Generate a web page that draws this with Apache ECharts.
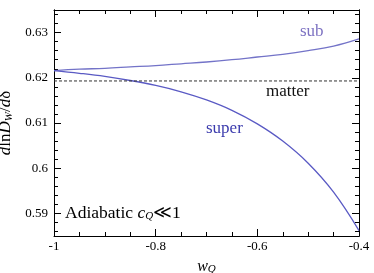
<!DOCTYPE html>
<html><head><meta charset="utf-8">
<script src="https://cdn.jsdelivr.net/npm/echarts@6/dist/echarts.min.js"></script>
<style>html,body{margin:0;padding:0;background:#fff}#c{width:374px;height:273px}</style>
</head><body><div id="c"></div>
<script>
const wQ = [-1, -0.95, -0.9, -0.85, -0.8, -0.75, -0.7, -0.65, -0.6, -0.55, -0.5, -0.45, -0.4];
const subVals = [0.6216, 0.6219, 0.6221, 0.6224, 0.6227, 0.6231, 0.6235, 0.6240, 0.6246, 0.6252, 0.6260, 0.6270, 0.6286];
const superVals = [0.6216, 0.6210, 0.6203, 0.6194, 0.6183, 0.6169, 0.6151, 0.6128, 0.6098, 0.6060, 0.6011, 0.5947, 0.5862];
const matterW = [-1, -0.4];
const matterVals = [0.6193, 0.6193];
const yMajorTicks = [0.59, 0.60, 0.61, 0.62, 0.63];
const yMinorTicks = [0.586, 0.588, 0.592, 0.594, 0.596, 0.598, 0.602, 0.604, 0.606, 0.608, 0.612, 0.614, 0.616, 0.618, 0.622, 0.624, 0.626, 0.628, 0.632, 0.634];
const yMajorLabels = ['0.59', '0.6', '0.61', '0.62', '0.63'];

const FONT = '"Liberation Serif", "DejaVu Serif", serif';
const chart = echarts.init(document.getElementById('c'), null, {renderer: 'canvas'});
const pair = (xs, ys) => xs.map((x, i) => [x, ys[i]]);
const lineC = '#000';
function xAx(pos, show) {
  return {
    type: 'value', min: -1, max: -0.4, interval: 0.2, position: pos,
    axisLine: {show: true, onZero: false, lineStyle: {color: lineC, width: 1}},
    axisTick: {show: true, inside: true, length: 7, lineStyle: {color: lineC}},
    minorTick: {show: true, splitNumber: 4, length: 4, lineStyle: {color: lineC}},
    splitLine: {show: false}, minorSplitLine: {show: false},
    axisLabel: {show: show, margin: 4, color: '#000', fontFamily: FONT, fontSize: 13,
      formatter: v => String(Math.round(v * 10) / 10)},
    name: show ? '{i|w}{s|Q}' : '', nameLocation: 'middle', nameGap: 22,
    nameTextStyle: {rich: {
      i: {fontFamily: FONT, fontStyle: 'italic', fontSize: 16, color: '#000'},
      s: {fontFamily: FONT, fontStyle: 'italic', fontSize: 11, color: '#000', verticalAlign: 'bottom', padding: [6, 0, 0, 0]}
    }}
  };
}
function yAx(pos, major, show) {
  return {
    type: 'value', min: 0.585, max: 0.635, position: pos,
    axisLine: {show: true, onZero: false, lineStyle: {color: lineC, width: 1}},
    axisTick: {show: true, inside: true, length: major ? 7 : 4, customValues: major ? yMajorTicks : yMinorTicks, lineStyle: {color: lineC}},
    splitLine: {show: false},
    axisLabel: {show: show, customValues: yMajorTicks, margin: 6, color: '#000', fontFamily: FONT, fontSize: 13,
      formatter: v => yMajorLabels[yMajorTicks.findIndex(t => Math.abs(t - v) < 1e-6)] || ''},
    name: show ? '{i|d}{r|ln}{i|D}{s|W}{r|/}{i|d}{r|δ}' : '', nameLocation: 'middle', nameGap: 27, nameRotate: 90,
    nameTextStyle: {rich: {
      i: {fontFamily: FONT, fontStyle: 'italic', fontSize: 17, color: '#000'},
      r: {fontFamily: FONT, fontSize: 17, color: '#000'},
      s: {fontFamily: FONT, fontStyle: 'italic', fontSize: 11, color: '#000', verticalAlign: 'bottom', padding: [7, 0, 0, 0]}
    }}
  };
}
const option = {
  animation: false,
  backgroundColor: '#fff',
  grid: {left: 54, right: 15, top: 10, bottom: 37, containLabel: false, outerBoundsMode: 'none'},
  xAxis: [xAx('bottom', true), xAx('top', false)],
  yAxis: [yAx('left', true, true), yAx('left', false, false), yAx('right', true, false), yAx('right', false, false)],
  series: [
    {type: 'line', name: 'sub', data: pair(wQ, subVals), smooth: 0.4, showSymbol: false,
      lineStyle: {color: '#7373c8', width: 1.3}},
    {type: 'line', name: 'super', data: pair(wQ, superVals), smooth: 0.4, showSymbol: false,
      lineStyle: {color: '#5a5ac4', width: 1.3}},
    {type: 'line', name: 'matter', data: pair(matterW, matterVals), showSymbol: false,
      lineStyle: {color: '#333', width: 1, type: [3, 2]}}
  ],
  graphic: [
    {type: 'text', left: 300, top: 23, style: {text: 'sub', fill: '#7d72c2', font: '17px ' + FONT}},
    {type: 'text', left: 266, top: 83, style: {text: 'matter', fill: '#111', font: '17px ' + FONT}},
    {type: 'text', left: 206, top: 120, style: {text: 'super', fill: '#3b3bad', font: '17px ' + FONT}},
    {type: 'text', left: 65, top: 204, style: {
      text: '{r|Adiabatic }{i|c}{s|Q}{r|≪1}',
      rich: {
        r: {fontFamily: FONT, fontSize: 17.5, fill: '#000'},
        i: {fontFamily: FONT, fontStyle: 'italic', fontSize: 17.5, fill: '#000'},
        s: {fontFamily: FONT, fontStyle: 'italic', fontSize: 11, fill: '#000', verticalAlign: 'bottom', padding: [7, 0, 0, 0]}
      }}}
  ]
};
chart.setOption(option);
</script></body></html>
